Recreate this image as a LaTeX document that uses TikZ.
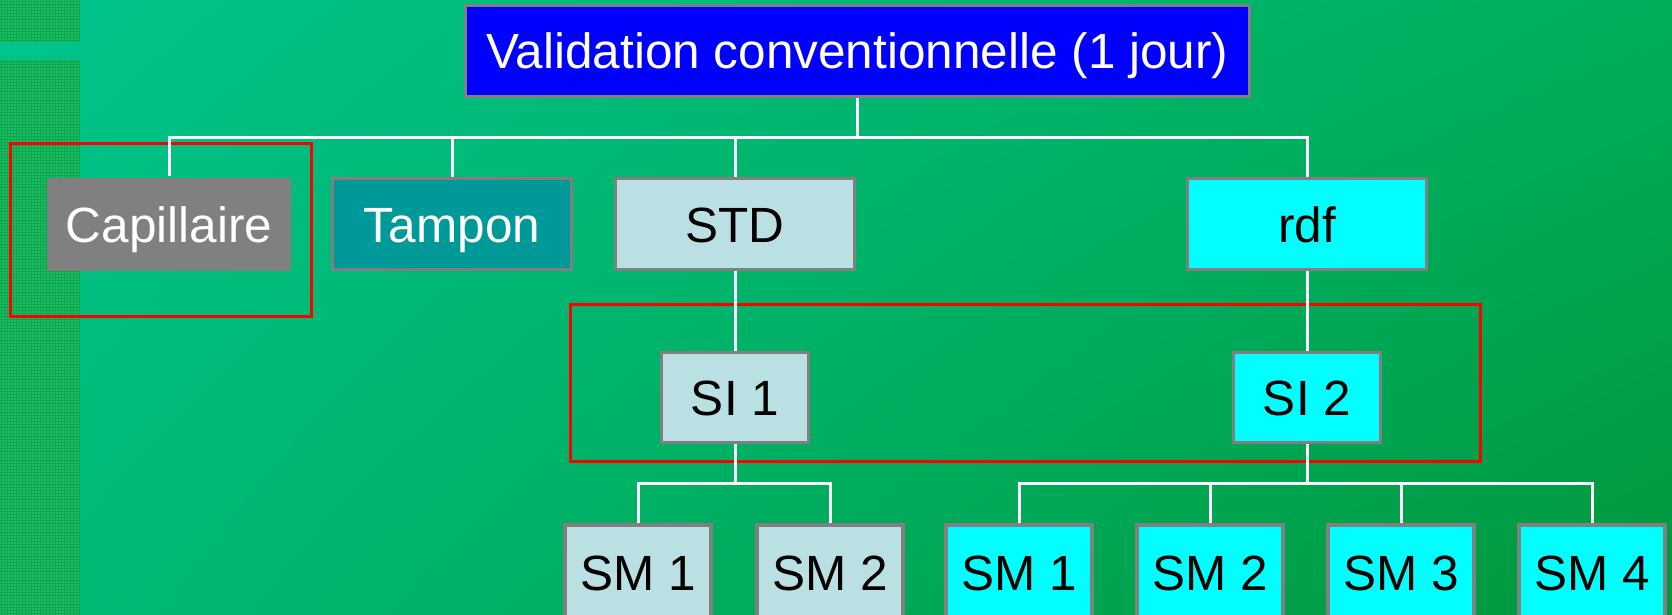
\documentclass[tikz,border=0pt]{standalone}
\usepackage{fontspec}
\setmainfont{Liberation Sans}
\usetikzlibrary{shadings}

\definecolor{bgA}{HTML}{00C48C}
\definecolor{bgB}{HTML}{00AE5C}
\definecolor{bgC}{HTML}{00BC78}
\definecolor{bgD}{HTML}{00973A}
\definecolor{stripbase}{HTML}{1EBB62}
\definecolor{stripline}{HTML}{0AA64E}
\definecolor{boxline}{HTML}{808080}
\definecolor{headblue}{HTML}{0000FF}
\definecolor{capgray}{HTML}{808080}
\definecolor{tamponteal}{HTML}{009999}
\definecolor{paleblue}{HTML}{BBE0E3}
\definecolor{brightcyan}{HTML}{00FFFF}
\definecolor{framered}{HTML}{FF0000}

\pgfdeclarelayer{backdrop}
\pgfdeclarelayer{frames}
\pgfdeclarelayer{wires}
\pgfsetlayers{backdrop,frames,wires,main}

\tikzset{
  box/.style={rectangle, draw=boxline, line width=3.3pt, inner sep=0pt,
    font=\fontsize{49.5}{59}\selectfont, text height=36pt, text depth=0pt},
  headbox/.style={box, fill=headblue, text=white, minimum width=784pt, minimum height=91pt},
  rowbox/.style={box, minimum width=239pt, minimum height=91pt},
  capbox/.style={box, draw=none, fill=capgray, text=white, minimum width=244pt, minimum height=93pt},
  tambox/.style={rowbox, fill=tamponteal, text=white},
  palebox/.style={box, fill=paleblue, text=black},
  cyanbox/.style={box, fill=brightcyan, text=black},
  sibox/.style={minimum width=147pt, minimum height=90pt},
  smbox/.style={minimum width=146pt, minimum height=94pt},
  wire/.style={draw=white, line width=3pt},
  redframe/.style={rectangle, draw=framered, line width=2.7pt, inner sep=0pt}
}

\begin{document}
\begin{tikzpicture}[x=1pt,y=-1pt]
\useasboundingbox (0,0) rectangle (1672,615);

% backdrop: diagonal green gradient and the textured strip on the left
\begin{pgfonlayer}{backdrop}
  \shade[upper left=bgA, upper right=bgB, lower left=bgC, lower right=bgD]
    (0,0) rectangle (1672,615);
  \fill[stripbase] (0,0) rectangle (80,42);
  \fill[stripbase] (0,60) rectangle (80,615);
  \foreach \i in {0,...,26}
    \draw[stripline, line width=1pt] (\i*3+1.5,0) -- (\i*3+1.5,42)
                                     (\i*3+1.5,60) -- (\i*3+1.5,615);
  \foreach \j in {0,...,13}
    \draw[stripline, line width=1pt] (0,\j*3+1.5) -- (80,\j*3+1.5);
  \foreach \j in {20,...,204}
    \draw[stripline, line width=1pt] (0,\j*3+1.5) -- (80,\j*3+1.5);
\end{pgfonlayer}

% tree nodes
\node[headbox] (top) at (857.5,51) {Validation conventionnelle (1 jour)};

\node[capbox] (cap) at (169,224.5) {Capillaire};
\node[tambox] (tam) at (452,224) {Tampon};
\node[rowbox, palebox] (std) at (735,224) {STD};
\node[rowbox, cyanbox] (rdf) at (1307,224) {rdf};

\node[palebox, sibox] (si1) at (735,397.5) {SI 1};
\node[cyanbox, sibox] (si2) at (1307,397.5) {SI 2};

\node[palebox, smbox] (smA1) at (638,572) {SM 1};
\node[palebox, smbox] (smA2) at (830,572) {SM 2};
\node[cyanbox, smbox] (smB1) at (1019,572) {SM 1};
\node[cyanbox, smbox] (smB2) at (1210,572) {SM 2};
\node[cyanbox, smbox] (smB3) at (1401,572) {SM 3};
\node[cyanbox, smbox] (smB4) at (1592,572) {SM 4};

% red highlight frames
\begin{pgfonlayer}{frames}
  \node[redframe, minimum width=301pt, minimum height=173pt] (frameA) at (161,230) {};
  \node[redframe, minimum width=910pt, minimum height=157pt] (frameB) at (1025.5,383) {};
\end{pgfonlayer}

% connectors
\coordinate (busTop) at (857.5,137);
\coordinate (busL) at (735,483);
\coordinate (busR) at (1307,483);
\begin{pgfonlayer}{wires}
  \draw[wire] (top.south) -- (busTop);
  \foreach \n in {cap,tam,std,rdf}
    \draw[wire] (\n.north) |- (busTop);
  \draw[wire] (std.south) -- (si1.north);
  \draw[wire] (rdf.south) -- (si2.north);
  \draw[wire] (si1.south) -- (busL);
  \draw[wire] (si2.south) -- (busR);
  \foreach \n in {smA1,smA2}
    \draw[wire] (\n.north) |- (busL);
  \foreach \n in {smB1,smB2,smB3,smB4}
    \draw[wire] (\n.north) |- (busR);
\end{pgfonlayer}
\end{tikzpicture}
\end{document}
